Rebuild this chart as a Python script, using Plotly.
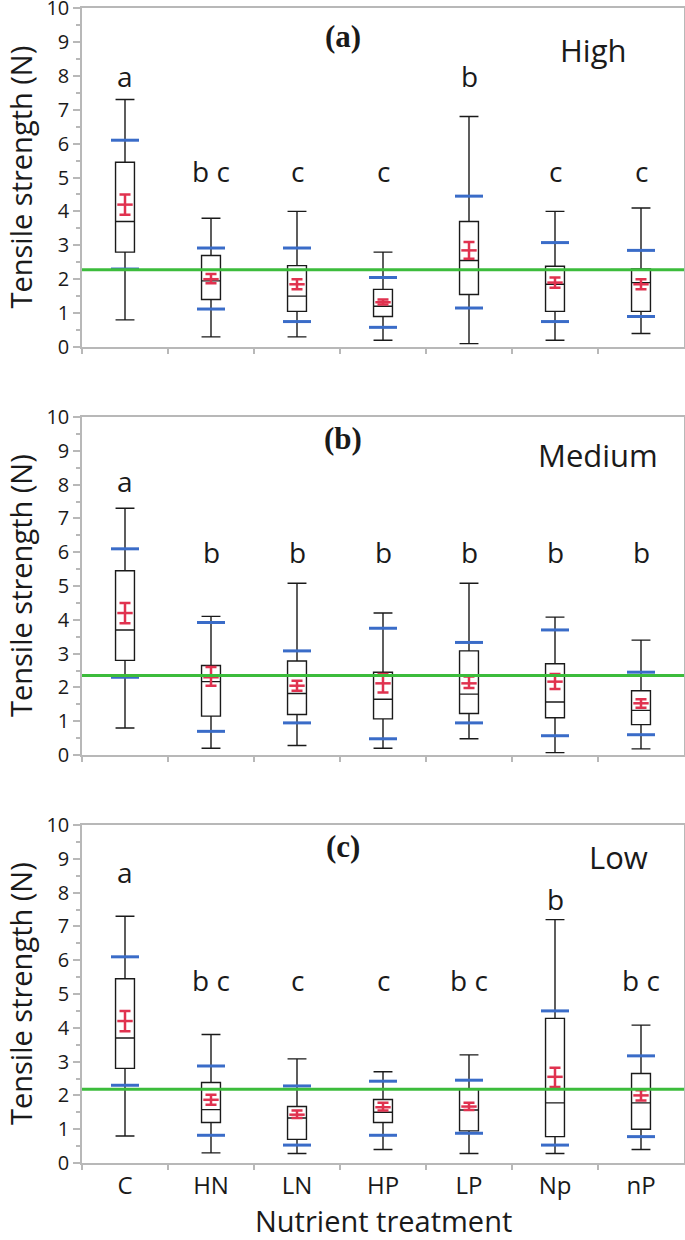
import plotly.graph_objects as go
from plotly.subplots import make_subplots

categories = ["C", "HN", "LN", "HP", "LP", "Np", "nP"]
panel_titles = ["(a)", "(b)", "(c)"]
level_names = ["High", "Medium", "Low"]

# Panel (a) High
a_low = [0.8, 0.3, 0.3, 0.2, 0.1, 0.2, 0.4]
a_q1 = [2.8, 1.4, 1.05, 0.9, 1.55, 1.05, 1.05]
a_med = [3.7, 1.95, 1.5, 1.2, 2.55, 1.85, 1.9]
a_q3 = [5.45, 2.7, 2.4, 1.7, 3.7, 2.38, 2.3]
a_high = [7.3, 3.8, 4.0, 2.8, 6.8, 4.0, 4.1]
a_mean = [4.2, 2.0, 1.85, 1.32, 2.85, 1.9, 1.85]
a_mean_lo = [3.9, 1.88, 1.7, 1.25, 2.6, 1.75, 1.7]
a_mean_hi = [4.5, 2.15, 2.0, 1.4, 3.1, 2.05, 2.0]
a_sd_lo = [2.3, 1.12, 0.75, 0.58, 1.15, 0.75, 0.9]
a_sd_hi = [6.1, 2.92, 2.92, 2.05, 4.45, 3.08, 2.85]
a_ref = 2.28
a_letters = ["a", "b c", "c", "c", "b", "c", "c"]
a_letter_y = [8.0, 5.2, 5.2, 5.2, 8.0, 5.2, 5.2]

# Panel (b) Medium
b_low = [0.8, 0.2, 0.28, 0.2, 0.48, 0.07, 0.18]
b_q1 = [2.8, 1.15, 1.2, 1.07, 1.23, 1.1, 0.9]
b_med = [3.7, 2.17, 1.82, 1.65, 1.8, 1.57, 1.32]
b_q3 = [5.45, 2.65, 2.78, 2.45, 3.08, 2.7, 1.9]
b_high = [7.3, 4.1, 5.08, 4.2, 5.08, 4.08, 3.4]
b_mean = [4.2, 2.3, 2.05, 2.12, 2.12, 2.17, 1.53]
b_mean_lo = [3.9, 2.05, 1.9, 1.85, 1.98, 1.95, 1.4]
b_mean_hi = [4.5, 2.6, 2.2, 2.4, 2.32, 2.4, 1.65]
b_sd_lo = [2.3, 0.7, 0.95, 0.48, 0.95, 0.57, 0.6]
b_sd_hi = [6.1, 3.92, 3.08, 3.75, 3.33, 3.7, 2.45]
b_ref = 2.35
b_letters = ["a", "b", "b", "b", "b", "b", "b"]
b_letter_y = [8.1, 6.0, 6.0, 6.0, 6.0, 6.0, 6.0]

# Panel (c) Low
c_low = [0.8, 0.3, 0.28, 0.4, 0.28, 0.28, 0.4]
c_q1 = [2.8, 1.2, 0.7, 1.2, 0.95, 0.78, 1.0]
c_med = [3.7, 1.58, 1.33, 1.5, 1.57, 1.78, 1.78]
c_q3 = [5.45, 2.38, 1.67, 1.88, 2.2, 4.28, 2.65]
c_high = [7.3, 3.8, 3.08, 2.7, 3.2, 7.2, 4.08]
c_mean = [4.2, 1.87, 1.43, 1.65, 1.67, 2.55, 2.0]
c_mean_lo = [3.9, 1.72, 1.33, 1.55, 1.57, 2.25, 1.85]
c_mean_hi = [4.5, 2.02, 1.55, 1.78, 1.78, 2.82, 2.15]
c_sd_lo = [2.3, 0.82, 0.53, 0.82, 0.88, 0.53, 0.78]
c_sd_hi = [6.1, 2.87, 2.28, 2.42, 2.45, 4.5, 3.17]
c_ref = 2.18
c_letters = ["a", "b c", "c", "c", "b c", "b", "b c"]
c_letter_y = [8.6, 5.4, 5.4, 5.4, 5.4, 7.8, 5.4]

panels = [
    (a_low, a_q1, a_med, a_q3, a_high, a_mean, a_mean_lo, a_mean_hi, a_sd_lo, a_sd_hi, a_ref, a_letters, a_letter_y),
    (b_low, b_q1, b_med, b_q3, b_high, b_mean, b_mean_lo, b_mean_hi, b_sd_lo, b_sd_hi, b_ref, b_letters, b_letter_y),
    (c_low, c_q1, c_med, c_q3, c_high, c_mean, c_mean_lo, c_mean_hi, c_sd_lo, c_sd_hi, c_ref, c_letters, c_letter_y),
]
title_y = [9.15, 9.35, 9.36]
level_y = [8.76, 8.88, 9.05]
level_x = [593, 598, 618]

W, H = 685, 1240
FONT = "Open Sans"
BLACK = "#1a1a1a"
BLUE = "#3a6cc8"
RED = "#e0324f"
GREEN = "#3cbc3c"
AXIS = "#b8b8b8"

fig = make_subplots(rows=3, cols=1)

px_x0, px_x1 = 82, 684
tops = [8, 417, 825]
bots = [347, 755, 1163]

for i, p in enumerate(panels):
    (low, q1, med, q3, high, mean, mlo, mhi, slo, shi, ref, letters, ly) = p
    r = i + 1
    fig.add_trace(go.Box(
        x=categories, q1=q1, median=med, q3=q3, lowerfence=low, upperfence=high,
        boxpoints=False, width=0.22, whiskerwidth=1,
        fillcolor="rgba(255,255,255,0)", line=dict(color=BLACK, width=1.4),
        showlegend=False, hoverinfo="skip"), row=r, col=1)
    fig.add_trace(go.Scatter(
        x=categories + categories, y=slo + shi, mode="markers",
        marker=dict(symbol="line-ew", size=20, line=dict(color=BLUE, width=3)),
        showlegend=False, hoverinfo="skip"), row=r, col=1)
    fig.add_trace(go.Scatter(
        x=categories, y=mean, mode="markers",
        marker=dict(symbol="line-ew", size=11, line=dict(color=RED, width=2.5)),
        error_y=dict(type="data", array=[h - m for h, m in zip(mhi, mean)],
                     arrayminus=[m - l for m, l in zip(mean, mlo)],
                     color=RED, thickness=2.5, width=5.5),
        showlegend=False, hoverinfo="skip"), row=r, col=1)
    fig.add_hline(y=ref, line=dict(color=GREEN, width=3), row=r, col=1)
    xa = "x" if r == 1 else f"x{r}"
    ya = "y" if r == 1 else f"y{r}"
    for cat, lt, yy in zip(categories, letters, ly):
        fig.add_annotation(x=cat, y=yy, xref=xa, yref=ya, text=lt, showarrow=False,
                           xanchor="center", yanchor="middle",
                           font=dict(family=FONT, size=28, color=BLACK))
    fig.add_annotation(x=343 / W, y=title_y[i], xref="paper", yref=ya,
                       text="<b>" + panel_titles[i] + "</b>", showarrow=False,
                       xanchor="center", yanchor="middle",
                       font=dict(family="Liberation Serif", size=31, color=BLACK))
    fig.add_annotation(x=level_x[i] / W, y=level_y[i], xref="paper", yref=ya, text=level_names[i],
                       showarrow=False, xanchor="center", yanchor="middle",
                       font=dict(family=FONT, size=31, color=BLACK))
    fig.add_annotation(x=20 / W, y=1 - ((tops[i] + bots[i]) / 2) / H, xref="paper", yref="paper",
                       text="Tensile strength (N)", textangle=-90, showarrow=False,
                       xanchor="center", yanchor="middle",
                       font=dict(family=FONT, size=29, color=BLACK))

    fig.update_xaxes(row=r, col=1, domain=[px_x0 / W, px_x1 / W], type="category",
                     categoryorder="array", categoryarray=categories, range=[-0.5, 6.5],
                     showline=True, mirror=True, linecolor=AXIS, linewidth=1.5,
                     ticks="outside", tickson="boundaries", ticklen=5, tickcolor=AXIS, tickwidth=1.5,
                     showgrid=False, zeroline=False, showticklabels=(r == 3),
                     tickfont=dict(family=FONT, size=24, color=BLACK), ticklabelstandoff=0,
                     automargin=False)
    fig.update_yaxes(row=r, col=1, domain=[1 - bots[i] / H, 1 - tops[i] / H], range=[0, 10],
                     tickmode="linear", tick0=0, dtick=1,
                     showline=True, mirror=True, linecolor=AXIS, linewidth=1.5,
                     ticks="outside", ticklen=7, tickcolor=AXIS, tickwidth=1.5,
                     minor=dict(dtick=0.5, ticks="outside", ticklen=4, tickcolor=AXIS),
                     showgrid=False, zeroline=False, ticklabeloverflow="allow",
                     tickfont=dict(family=FONT, size=20, color=BLACK), automargin=False)

fig.add_annotation(x=383 / W, y=1 - 1220 / H, xref="paper", yref="paper", text="Nutrient treatment",
                   showarrow=False, xanchor="center", yanchor="middle",
                   font=dict(family=FONT, size=29, color=BLACK))

fig.update_layout(width=W, height=H, margin=dict(l=0, r=0, t=0, b=0),
                  paper_bgcolor="white", plot_bgcolor="white", template="none",
                  font=dict(family=FONT, color=BLACK))
fig.write_html("out.html", config={"displayModeBar": False},
               post_script="document.body.style.margin='0';")
